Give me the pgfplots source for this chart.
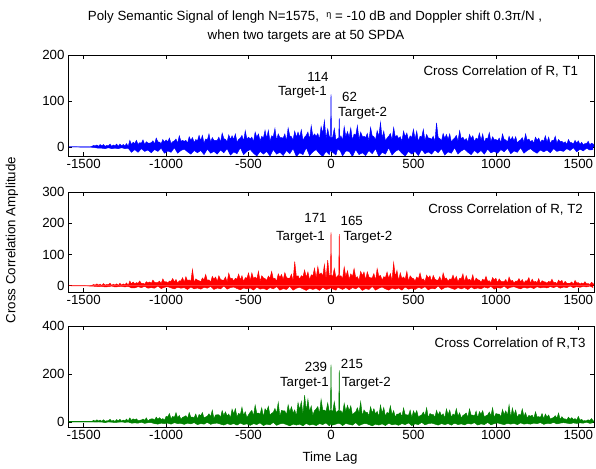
\documentclass[border=0pt]{standalone}
\usepackage{fontspec}
\setmainfont{Liberation Sans}
\usepackage{pgfplots}
\usepackage{pgfplotstable}
\pgfplotsset{compat=1.18}
\newcommand{\mf}{\fontsize{13.3}{15}\selectfont}
\definecolor{mgreen}{rgb}{0,0.5,0}
% lower excursions of the noise (x, blue, red, green)
\pgfplotstableread{
x b r g
-1590 0 0 4
-1450 -1 -1 3
-1430 -2 -2 1
-1410 -3 -3 2
-1390 -3 -2 1
-1370 -4 -4 -2
-1350 -2 -3 2
-1330 -4 -1 0
-1310 -3 -4 -1
-1290 -4 -3 0
-1270 -2 -2 2
-1250 -4 -4 -1
-1230 -3 -2 1
-1210 -12 -7 -4
-1190 -6 -7 -3
-1170 -12 -3 -4
-1150 -4 -6 0
-1130 -10 -2 -5
-1110 -7 -8 -2
-1090 -13 -6 -2
-1070 -6 -8 -6
-1050 -10 -1 -8
-1030 -3 -9 -4
-1010 -14 -5 -6
-990 -9 -3 -4
-970 -12 -7 -8
-950 -2 -10 -2
-930 -14 -5 -6
-910 -8 -8 -5
-890 -5 -6 -9
-870 -11 -12 -4
-850 -16 -4 -7
-830 -8 -10 -2
-810 -13 -7 -10
-790 -8 -11 -6
-770 -17 -5 -8
-750 -5 -8 -1
-730 -14 -2 -9
-710 -10 -12 -5
-690 -16 -7 -4
-670 -7 -10 -8
-650 -13 -1 -12
-630 -4 -11 -6
-610 -18 -6 -10
-590 -11 -4 -6
-570 -15 -9 -12
-550 -2 -13 -4
-530 -17 -7 -10
-510 -10 -10 -7
-490 -6 -7 -13
-470 -14 -14 -6
-450 -20 -4 -10
-430 -10 -11 -3
-410 -16 -8 -14
-390 -10 -13 -8
-370 -20 -6 -11
-350 -6 -10 -1
-330 -16 -3 -13
-310 -12 -14 -7
-290 -19 -9 -5
-270 -8 -12 -10
-250 -15 -2 -15
-230 -4 -14 -8
-210 -21 -8 -12
-190 -13 -5 -8
-170 -17 -10 -15
-150 -2 -15 -5
-130 -19 -8 -12
-110 -11 -12 -9
-90 -6 -8 -14
-70 -15 -15 -6
-50 -21 -5 -10
-30 -10 -12 -3
-10 -17 -9 -15
-5 -8 -6 -8
10 -12 -10 -12
30 -18 -14 -8
40 -5 -5 -5
55 -8 -8 -6
70 -20 -12 -14
90 -9 -6 -5
110 -10 -13 -9
130 -21 -6 -12
150 -6 -10 -2
170 -17 -3 -14
190 -13 -15 -8
210 -19 -9 -5
230 -8 -12 -10
250 -15 -2 -15
270 -4 -14 -8
290 -21 -8 -12
310 -12 -4 -7
330 -16 -10 -14
350 -2 -14 -4
370 -18 -7 -11
390 -10 -11 -8
410 -6 -7 -13
430 -14 -14 -6
450 -20 -4 -10
470 -10 -11 -3
490 -16 -8 -14
510 -10 -12 -7
530 -19 -5 -10
550 -6 -9 -1
570 -15 -3 -11
590 -11 -13 -6
610 -16 -8 -4
630 -7 -10 -8
650 -13 -1 -12
670 -4 -12 -6
690 -18 -6 -10
710 -11 -4 -6
730 -14 -8 -12
750 -2 -12 -4
770 -16 -6 -10
790 -9 -10 -7
810 -5 -6 -11
830 -12 -12 -5
850 -17 -4 -8
870 -8 -10 -2
890 -14 -7 -12
910 -8 -10 -7
930 -16 -4 -10
950 -5 -8 -1
970 -13 -2 -11
990 -10 -11 -6
1010 -14 -6 -3
1030 -6 -8 -7
1050 -11 -1 -10
1070 -3 -9 -5
1090 -15 -5 -8
1110 -9 -3 -5
1130 -12 -7 -10
1150 -2 -10 -3
1170 -14 -5 -8
1190 -8 -8 -6
1210 -4 -5 -8
1230 -10 -9 -4
1250 -14 -3 -6
1270 -7 -7 -2
1290 -11 -5 -9
1310 -7 -7 -5
1330 -13 -3 -6
1350 -4 -6 -1
1370 -10 -2 -7
1390 -8 -8 -4
1410 -10 -4 -2
1430 -4 -6 -4
1450 -8 -1 -6
1470 -2 -6 -3
1490 -11 -3 -5
1510 -5 -5 -3
1530 -9 -2 -4
1550 -3 -4 0
1570 -7 -1 -5
1590 -6 -6 -2
}\lows
% upper excursions of the noise and the two target peaks (x, blue, red, green)
\pgfplotstableread{
x b r g
-1590 0 0 4
-1460 0 0 4
-1450 1 1 3
-1440 3 4 8
-1430 2 2 4
-1420 4 6 10
-1410 1 2 5
-1400 5 5 9
-1390 2 1 3
-1380 5 7 10
-1370 1 2 4
-1360 3 4 6
-1350 2 3 6
-1340 6 8 12
-1330 1 1 4
-1320 4 5 8
-1310 2 2 3
-1300 6 6 11
-1290 1 1 5
-1280 6 8 12
-1270 2 2 4
-1260 5 6 9
-1250 2 3 6
-1240 7 9 13
-1230 1 1 5
-1220 14 15 18
-1210 5 6 7
-1200 10 12 14
-1190 7 6 10
-1180 14 10 14
-1170 5 8 6
-1160 9 15 8
-1150 8 7 9
-1140 15 8 13
-1130 5 5 8
-1120 11 13 18
-1110 8 9 5
-1100 8 12 11
-1090 9 8 14
-1080 13 18 14
-1070 6 11 9
-1060 19 10 21
-1050 11 10 12
-1040 10 15 19
-1030 7 7 11
-1020 16 22 15
-1010 10 12 8
-1000 15 13 24
-990 11 9 22
-980 19 15 36
-970 7 14 14
-960 11 23 24
-950 13 12 20
-940 17 20 40
-930 8 8 18
-920 24 16 28
-910 12 15 12
-900 14 26 20
-890 12 11 23
-880 14 29 27
-870 8 16 15
-860 22 19 40
-850 14 14 21
-840 20 52 21
-830 9 10 19
-820 16 22 34
-810 13 18 13
-800 25 16 32
-790 13 13 27
-780 25 25 40
-770 8 19 17
-760 17 36 22
-750 15 17 25
-740 28 19 35
-730 10 11 22
-720 20 30 50
-710 14 21 15
-700 14 28 30
-690 14 14 31
-680 21 32 31
-670 10 20 20
-660 30 18 48
-650 18 18 28
-640 16 28 43
-630 11 12 26
-620 26 40 34
-610 16 22 17
-600 24 24 54
-590 16 15 34
-580 28 24 56
-570 10 21 22
-560 16 37 37
-550 19 19 31
-540 25 32 62
-530 12 13 28
-520 35 26 43
-510 17 24 19
-500 21 41 31
-490 17 16 41
-480 21 41 49
-470 11 23 26
-460 32 28 71
-450 21 21 37
-440 28 46 38
-430 13 14 34
-420 23 32 60
-410 19 25 22
-400 36 23 56
-390 18 17 45
-380 36 31 66
-370 12 24 29
-360 24 46 37
-350 22 22 41
-340 40 24 57
-330 14 14 37
-320 28 38 82
-310 20 26 25
-300 20 36 49
-290 19 19 47
-280 28 42 47
-270 13 26 30
-260 41 24 72
-250 24 24 42
-240 22 37 64
-230 15 16 38
-220 34 77 51
-210 21 29 25
-200 32 32 81
-190 21 21 52
-180 37 32 86
-170 14 29 33
-160 21 50 112
-150 25 27 47
-140 32 44 95
-130 16 18 43
-120 46 35 67
-110 23 32 28
-100 28 56 48
-90 23 24 55
-80 29 61 65
-70 16 34 35
-60 44 41 95
-50 29 31 50
-40 57 68 50
-30 18 20 45
-20 39 82 80
-10 22 30 44
-3 20 35 50
0 114 171 239
3 20 35 50
10 21 28 42
20 40 55 85
30 15 26 40
47 20 35 50
50 62 165 215
53 18 30 45
60 24 32 48
70 14 22 35
80 44 60 78
90 22 29 45
100 33 48 70
110 21 20 47
120 41 38 68
130 14 29 30
140 28 55 38
150 25 26 43
160 46 29 60
170 16 17 38
180 32 46 85
190 23 32 26
200 23 44 51
210 20 19 41
220 29 44 41
230 13 28 26
240 42 25 64
250 24 25 38
260 22 39 56
270 15 17 34
280 35 55 45
290 22 30 23
300 53 33 71
310 19 18 37
320 34 29 61
330 13 26 24
340 19 44 41
350 23 23 34
360 29 39 68
370 15 16 31
380 42 74 48
390 21 29 20
400 25 49 34
410 18 16 34
420 22 41 40
430 12 23 22
440 34 28 59
450 22 21 31
460 30 46 31
470 14 14 28
480 24 32 50
490 20 25 19
500 38 23 47
510 17 15 33
520 34 28 48
530 11 22 21
540 23 41 27
550 21 19 30
560 38 22 42
570 13 13 27
580 27 34 60
590 19 24 18
600 19 32 36
610 16 14 32
620 23 33 32
630 11 21 20
640 52 18 49
650 20 18 29
660 18 29 44
670 13 12 26
680 29 41 35
690 18 23 17
700 27 25 55
710 16 14 31
720 28 22 50
730 10 20 20
740 16 34 34
750 19 18 28
760 25 30 56
770 12 12 25
780 35 24 39
790 17 22 17
800 21 38 28
810 14 12 32
820 18 32 38
830 10 18 20
840 27 21 55
850 18 16 29
860 24 35 29
870 11 11 26
880 19 25 46
890 16 19 17
900 30 18 44
910 14 11 33
920 28 21 48
930 9 16 21
940 19 30 27
950 17 14 30
960 31 16 42
970 11 10 27
980 22 26 60
990 15 18 18
1000 16 24 36
1010 13 10 34
1020 19 22 34
1030 9 14 22
1040 28 13 53
1050 16 13 31
1060 15 20 47
1070 10 8 28
1080 23 28 72
1090 14 15 19
1100 22 17 59
1110 13 9 30
1120 22 15 50
1130 8 14 19
1140 13 23 33
1150 15 12 28
1160 20 20 55
1170 10 8 25
1180 28 16 39
1190 14 15 17
1200 17 26 28
1210 11 8 25
1220 14 21 29
1230 8 12 16
1240 21 14 43
1250 14 10 22
1260 19 23 23
1270 9 7 20
1280 15 16 36
1290 12 13 14
1300 24 12 34
1310 10 8 21
1320 21 14 30
1330 7 11 13
1340 14 21 17
1350 13 10 19
1360 23 11 27
1370 8 7 17
1380 16 18 38
1390 11 12 11
1400 12 17 23
1410 8 6 14
1420 11 14 14
1430 5 8 9
1440 16 8 21
1450 9 8 12
1460 9 12 19
1470 6 5 11
1480 14 17 15
1490 8 9 8
1500 13 10 24
1510 5 5 8
1520 10 9 12
1530 4 6 5
1540 7 13 7
1550 7 6 7
1560 12 7 10
1570 4 4 7
1580 8 11 15
1590 6 7 5
1595 4 3 6
}\uppers
\pgfplotsset{mystyle/.style={
  scale only axis, width=526pt, anchor=south west,
  xmin=-1595, xmax=1595, ymin=-20,
  tick align=inside, major tick length=4pt,
  xtick={-1500,-1000,-500,0,500,1000,1500},
  xticklabels={-1500,-1000,-500,0,500,1000,1500},
  ticklabel style={font=\mf},
  axis line style={line width=0.6pt},
  every tick/.style={black, line width=0.5pt},
  clip=true}}
\begin{document}
\begin{tikzpicture}[x=1pt,y=1pt]
\useasboundingbox (0,0) rectangle (596,468);
\begin{axis}[mystyle, at={(68pt,312pt)}, height=101pt, ymax=200,
  ytick={0,100,200}, yticklabels={0,100,200}]
\addplot[fill=blue, draw=none, mark=none] table[x=x,y=b] {\uppers} \closedcycle;
\addplot[fill=blue, draw=none, mark=none] table[x=x,y=b] {\lows} \closedcycle;
\addplot[blue, line width=0.45pt, mark=none] table[x=x,y=b] {\uppers};
\addplot[blue, line width=0.45pt, mark=none] table[x=x,y=b] {\lows};
\end{axis}
\begin{axis}[mystyle, at={(68pt,176pt)}, height=100pt, ymax=300,
  ytick={0,100,200,300}, yticklabels={0,100,200,300}]
\addplot[fill=red, draw=none, mark=none] table[x=x,y=r] {\uppers} \closedcycle;
\addplot[fill=red, draw=none, mark=none] table[x=x,y=r] {\lows} \closedcycle;
\addplot[red, line width=0.45pt, mark=none] table[x=x,y=r] {\uppers};
\addplot[red, line width=0.45pt, mark=none] table[x=x,y=r] {\lows};
\end{axis}
\begin{axis}[mystyle, at={(68pt,41pt)}, height=101pt, ymax=400,
  ytick={0,200,400}, yticklabels={0,200,400}]
\addplot[fill=mgreen, draw=none, mark=none] table[x=x,y=g] {\uppers} \closedcycle;
\addplot[fill=mgreen, draw=none, mark=none] table[x=x,y=g] {\lows} \closedcycle;
\addplot[mgreen, line width=0.45pt, mark=none] table[x=x,y=g] {\uppers};
\addplot[mgreen, line width=0.45pt, mark=none] table[x=x,y=g] {\lows};
\end{axis}
\begin{scope}[every node/.style={font=\mf, inner sep=0pt}]
\node at (315,451) {Poly Semantic Signal of lengh N=1575,\ \ {\fontsize{9}{9}\selectfont\raisebox{2.5pt}{η}} = -10 dB and Doppler shift 0.3π/N ,};
\node at (306,432) {when two targets are at 50 SPDA};
\node[rotate=90] at (12,228) {Cross Correlation Amplitude};
\node at (330,10) {Time Lag};
% panel 1
\node[anchor=east] at (578.3,396.3) {Cross Correlation of R, T1};
\node at (318,391.3) {114};
\node[anchor=east] at (327,375.7) {Target-1};
\node at (349.5,370.7) {62};
\node[anchor=west] at (338,354.7) {Target-2};
% panel 2
\node[anchor=east] at (583,258) {Cross Correlation of R, T2};
\node at (315.5,249.7) {171};
\node[anchor=east] at (325,230.7) {Target-1};
\node at (351.7,247.3) {165};
\node[anchor=west] at (343.3,230.7) {Target-2};
% panel 3
\node[anchor=east] at (585.7,124.7) {Cross Correlation of R,T3};
\node at (316,100.7) {239};
\node[anchor=east] at (329,84.7) {Target-1};
\node at (352,104) {215};
\node[anchor=west] at (341.7,84.7) {Target-2};
\end{scope}
\end{tikzpicture}
\end{document}
